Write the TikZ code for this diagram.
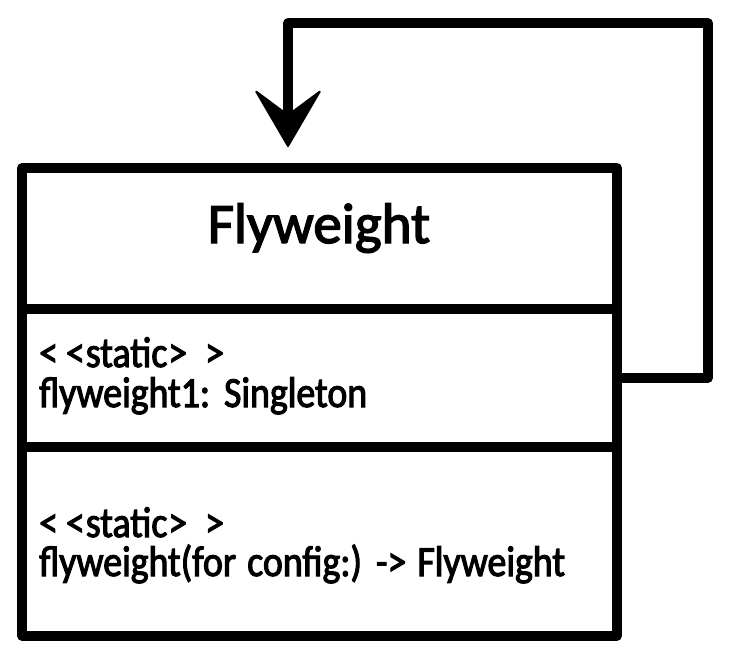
\documentclass[tikz,border=0pt]{standalone}
\usepackage{fontspec}
\setmainfont{Carlito}
\newfontfamily\titlefont[FakeBold=2.5]{Carlito}
\newfontfamily\bodyfont[FakeStretch=0.88,FakeBold=2.5,WordSpace=1.3]{Carlito}
\usetikzlibrary{arrows.meta}
\tikzset{
  section/.style={draw=black, line width=9.5pt, line join=round, fill=white, inner sep=0pt, outer sep=0pt},
  titletext/.style={inner sep=0pt, anchor=base, font=\titlefont\fontsize{57}{60}\selectfont},
  bodytext/.style={inner sep=0pt, anchor=base west, font=\bodyfont\fontsize{43}{45}\selectfont},
  conn/.style={draw=black, line width=9.5pt, line join=round, line cap=round,
    -{Stealth[length=60pt,width=70pt,inset=26pt,line width=2pt,round]}}
}
\begin{document}
\begin{tikzpicture}[x=1pt,y=-1pt]
\useasboundingbox (0,0) rectangle (736,664);
% class box sections
\node[section, minimum width=595pt, minimum height=141pt] (title) at (319.5,238.5) {};
\node[section, minimum width=595pt, minimum height=138pt] (attr) at (319.5,378) {};
\node[section, minimum width=595pt, minimum height=189pt] (ops) at (319.5,541.5) {};
% texts
\node[titletext] (tname) at (319,243) {Flyweight};
\node[bodytext] (a1) at (39,367) {<\kern8pt<\kern1pt static\kern1pt>\kern18pt>};
\node[bodytext] (a2) at (39,407) {flyweight1: Singleton};
\node[bodytext] (o1) at (39,537) {<\kern8pt<\kern1pt static\kern1pt>\kern18pt>};
\node[bodytext] (o2) at (39,576) {flyweight(for config:) -> Flyweight};
% self association
\coordinate (cTR) at (708,23);
\coordinate (cTL) at (288,23);
\coordinate (tip) at (288,147);
\draw[conn] (attr.east) -| (cTR) -- (cTL) -- (tip);
\end{tikzpicture}
\end{document}
